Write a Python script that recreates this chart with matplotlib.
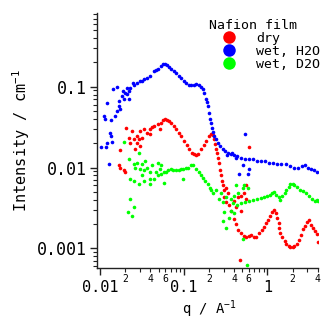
import matplotlib
matplotlib.use('Agg')
import matplotlib.pyplot as plt
from matplotlib.lines import Line2D
from matplotlib.ticker import FixedLocator, FixedFormatter, LogLocator, FuncFormatter
import numpy as np

# Igor-like look: mono font everywhere
plt.rcParams['font.family'] = 'DejaVu Sans Mono'
plt.rcParams['mathtext.fontset'] = 'custom'
plt.rcParams['mathtext.rm'] = 'DejaVu Sans Mono'
plt.rcParams['mathtext.default'] = 'rm'

# SAXS data (q in A^-1, intensity in cm^-1)
h2o_q = [0.0103, 0.0112, 0.0115, 0.0118, 0.0121, 0.0121, 0.0128, 0.0132, 0.0136, 0.0136,
         0.0139, 0.0143, 0.0152, 0.0160, 0.0160, 0.0170, 0.0170, 0.0174, 0.0184, 0.0189,
         0.0195, 0.0200, 0.0212, 0.0212, 0.0223, 0.0223, 0.0230, 0.0250, 0.0257, 0.0279,
         0.0303, 0.0320, 0.0339, 0.0368, 0.0400, 0.0435, 0.0460, 0.0487, 0.0528, 0.0558,
         0.0590, 0.0624, 0.0660, 0.0697, 0.0758, 0.0800, 0.0870, 0.0920, 0.100, 0.106,
         0.115, 0.121, 0.132, 0.140, 0.152, 0.160, 0.169, 0.174, 0.184, 0.189,
         0.195, 0.200, 0.206, 0.211, 0.217, 0.223, 0.229, 0.243, 0.257, 0.271,
         0.295, 0.312, 0.339, 0.368, 0.401, 0.435, 0.486, 0.543, 0.607, 0.679,
         0.759, 0.848, 0.948, 1.06, 1.18, 1.32, 1.47, 1.65, 1.84, 2.06,
         2.30, 2.57, 2.79, 3.03, 3.31, 3.61, 3.93,
         0.543, 0.51, 0.46, 0.59, 0.61, 0.33, 0.38, 0.42]
h2o_I = [0.0177, 0.0439, 0.0403, 0.0182, 0.0635, 0.0204, 0.0112, 0.0271, 0.0391, 0.0248,
         0.0209, 0.0944, 0.0439, 0.0506, 0.0999, 0.0672, 0.0583, 0.0534, 0.0774, 0.0893,
         0.0711, 0.0846, 0.0972, 0.0818, 0.0893, 0.0711, 0.0972, 0.112, 0.106, 0.112,
         0.119, 0.119, 0.125, 0.129, 0.137, 0.158, 0.162, 0.167, 0.182, 0.192,
         0.192, 0.187, 0.177, 0.167, 0.158, 0.149, 0.137, 0.129, 0.119, 0.112,
         0.106, 0.106, 0.106, 0.109, 0.106, 0.100, 0.0944, 0.0846, 0.0711, 0.0652,
         0.0583, 0.0477, 0.0403, 0.0360, 0.0312, 0.0278, 0.0248, 0.0228, 0.0204, 0.0187,
         0.0172, 0.0162, 0.0153, 0.0145, 0.0141, 0.0137, 0.0133, 0.0129, 0.0129, 0.0126,
         0.0122, 0.0119, 0.0122, 0.0115, 0.0115, 0.0112, 0.0112, 0.0109, 0.0103, 0.0100,
         0.0100, 0.0103, 0.0106, 0.0100, 0.0095, 0.0092, 0.0087,
         0.0263, 0.0106, 0.0084, 0.0084, 0.0097, 0.0142, 0.0150, 0.0130]

dry_q = [0.0170, 0.0174, 0.0174, 0.0195, 0.0200, 0.0206, 0.0223, 0.0230, 0.0243, 0.0257,
         0.0264, 0.0279, 0.0279, 0.0295, 0.0303, 0.0303, 0.0320, 0.0339, 0.0368, 0.0400,
         0.0400, 0.0423, 0.0447, 0.0487, 0.0514, 0.0528, 0.0558, 0.0590, 0.0624, 0.0660,
         0.0697, 0.0758, 0.0800, 0.0870, 0.0920, 0.100, 0.109, 0.115, 0.125, 0.132,
         0.140, 0.147, 0.160, 0.174, 0.184, 0.200, 0.211, 0.223, 0.229, 0.236,
         0.243, 0.250, 0.257, 0.264, 0.271, 0.279, 0.286, 0.295, 0.303,
         0.303, 0.321, 0.321, 0.339, 0.348, 0.368, 0.401, 0.424, 0.446, 0.486,
         0.529, 0.559, 0.486, 0.607, 0.559,
         0.401, 0.424, 0.446, 0.486, 0.53, 0.559, 0.61, 0.641, 0.70, 0.737,
         0.80, 0.87, 0.92, 0.97, 1.02, 1.09, 1.15, 1.21, 1.28, 1.32,
         1.36, 1.39, 1.43, 1.51, 1.61, 1.69, 1.79, 1.89, 2.0, 2.11,
         2.24, 2.37, 2.50, 2.65, 2.79, 2.95, 3.14, 3.33, 3.50, 3.70,
         3.90, 3.98, 0.47]
dry_I = [0.0106, 0.0100, 0.0167, 0.0092, 0.0087, 0.0312, 0.0234, 0.0204, 0.0286, 0.0228,
         0.0172, 0.0248, 0.0204, 0.0228, 0.0286, 0.0187, 0.0234, 0.0303, 0.0270, 0.0303,
         0.0263, 0.0321, 0.0330, 0.0349, 0.0303, 0.0359, 0.0391, 0.0403, 0.0391, 0.0380,
         0.0359, 0.0330, 0.0303, 0.0270, 0.0248, 0.0215, 0.0192, 0.0172, 0.0153, 0.0145,
         0.0141, 0.0149, 0.0172, 0.0192, 0.0215, 0.0248, 0.0263, 0.0255, 0.0228, 0.0198,
         0.0172, 0.0153, 0.0133, 0.0115, 0.0092, 0.0080, 0.0069, 0.0060, 0.0052,
         0.0043, 0.0055, 0.0037, 0.0048, 0.0034, 0.0029, 0.0039, 0.0032, 0.0043, 0.0045,
         0.0048, 0.0041, 0.0029, 0.0177, 0.0060,
         0.0023, 0.0020, 0.00167, 0.00153, 0.00141, 0.00137, 0.00141, 0.00145, 0.00137, 0.00137,
         0.00153, 0.00167, 0.00182, 0.00204, 0.00222, 0.00248, 0.00278, 0.00295, 0.00270, 0.00235,
         0.00204, 0.00177, 0.00153, 0.00137, 0.00122, 0.00112, 0.00106, 0.00103, 0.00103, 0.00106,
         0.00112, 0.00126, 0.00145, 0.00172, 0.00187, 0.00209, 0.00222, 0.00192, 0.00177, 0.00162,
         0.00149, 0.00119, 0.00071]

d2o_q = [0.0195, 0.0217, 0.0230, 0.0243, 0.0257, 0.0223, 0.0230, 0.0257, 0.0257, 0.0264,
         0.0279, 0.0295, 0.0295, 0.0303, 0.0320, 0.0320, 0.0339, 0.0339, 0.0348, 0.0368,
         0.0390, 0.0390, 0.0400, 0.0423, 0.0447, 0.0460, 0.0487, 0.0487, 0.0514, 0.0528,
         0.0528, 0.0575, 0.0575, 0.0607, 0.0642, 0.0697, 0.0736, 0.0800, 0.0870, 0.0920,
         0.0970, 0.0970, 0.106, 0.112, 0.121, 0.128, 0.140, 0.152, 0.160, 0.169,
         0.179, 0.195, 0.206, 0.211, 0.223, 0.243, 0.264, 0.279, 0.295, 0.295,
         0.303, 0.321, 0.321, 0.348, 0.368, 0.368, 0.390, 0.401, 0.401, 0.424,
         0.446, 0.51, 0.53, 0.59, 0.51, 0.57,
         0.435, 0.486, 0.543, 0.607, 0.679, 0.759, 0.848, 0.92, 1.00, 1.09,
         1.15, 1.21, 1.28, 1.36, 1.43, 1.51, 1.61, 1.69, 1.79, 1.89,
         2.00, 2.11, 2.24, 2.43, 2.65, 2.86, 3.14, 3.39, 3.70, 3.90, 3.98]
d2o_I = [0.0209, 0.0028, 0.0041, 0.0025, 0.0032, 0.0129, 0.0073, 0.0112, 0.0069, 0.0100,
         0.0115, 0.0153, 0.0063, 0.0097, 0.0112, 0.0080, 0.0092, 0.0069, 0.0119, 0.0100,
         0.0087, 0.0063, 0.0073, 0.0106, 0.0073, 0.0087, 0.0115, 0.0080, 0.0097, 0.0084,
         0.0106, 0.0087, 0.0065, 0.0089, 0.0092, 0.0097, 0.0092, 0.0092, 0.0092, 0.0097,
         0.0097, 0.0073, 0.0100, 0.0100, 0.0106, 0.0106, 0.0097, 0.0087, 0.0080, 0.0075,
         0.0069, 0.0063, 0.0055, 0.0052, 0.0048, 0.0052, 0.0041, 0.0048, 0.0037, 0.0022,
         0.0028, 0.0043, 0.0018, 0.0024, 0.0041, 0.0029, 0.0036, 0.0045, 0.0027, 0.0060,
         0.0048, 0.0055, 0.0060, 0.0055, 0.0013, 0.00062,
         0.0034, 0.0036, 0.0037, 0.0039, 0.0040, 0.0041, 0.0042, 0.0043, 0.0044, 0.0046,
         0.0048, 0.0050, 0.0046, 0.0043, 0.0040, 0.0044, 0.0049, 0.0053, 0.0058, 0.0063,
         0.0063, 0.0060, 0.0057, 0.0053, 0.0051, 0.0048, 0.0045, 0.0041, 0.0039, 0.0040, 0.0039]

series_labels = ['dry', 'wet, H2O', 'wet, D2O']
series_colors = ['#FF0000', '#0000FF', '#00FF00']
x_major = [0.01, 0.1, 1]
x_major_labels = ['0.01', '0.1', '1']
y_major = [0.001, 0.01, 0.1]
y_major_labels = ['0.001', '0.01', '0.1']

fig = plt.figure(figsize=(3.28, 3.20), dpi=100)
ax = fig.add_axes([0.296, 0.1625, 0.674, 0.797])

for q, inten, c in zip([dry_q, h2o_q, d2o_q], [dry_I, h2o_I, d2o_I], series_colors):
    ax.plot(q, inten, 'o', ls='none', ms=2.6, mew=0, color=c)

ax.set_xscale('log')
ax.set_yscale('log')
ax.set_xlim(0.0092, 4.05)
ax.set_ylim(5.7e-4, 0.82)

ax.spines['top'].set_visible(False)
ax.spines['right'].set_visible(False)
for s in ['left', 'bottom']:
    ax.spines[s].set_linewidth(1.0)
    ax.spines[s].set_color('#222222')

ax.xaxis.set_major_locator(FixedLocator(x_major))
ax.xaxis.set_major_formatter(FixedFormatter(x_major_labels))
ax.xaxis.set_minor_locator(LogLocator(base=10, subs=np.arange(2, 10)))


def minor_fmt(v, pos):
    lead = int(round(v / 10 ** np.floor(np.log10(v) + 1e-9)))
    return str(lead) if lead in (2, 4, 6) else ''


ax.xaxis.set_minor_formatter(FuncFormatter(minor_fmt))

ax.yaxis.set_major_locator(FixedLocator(y_major))
ax.yaxis.set_major_formatter(FixedFormatter(y_major_labels))
ax.yaxis.set_minor_locator(LogLocator(base=10, subs=np.arange(2, 10)))
ax.yaxis.set_minor_formatter(FuncFormatter(lambda v, p: ''))

ax.tick_params(which='major', direction='out', length=5, width=1, color='#222222')
ax.tick_params(which='minor', direction='out', length=3, width=0.8, color='#222222')
ax.tick_params(axis='y', which='major', labelsize=12, pad=2)
ax.tick_params(axis='x', which='major', labelsize=11, pad=4)
ax.tick_params(axis='x', which='minor', labelsize=7, pad=1)

ax.set_ylabel('Intensity / cm$^{-1}$', fontsize=11)
ax.yaxis.set_label_coords(-0.294, 0.5)
ax.set_xlabel('q / A$^{-1}$', fontsize=10)
ax.xaxis.set_label_coords(0.51, -0.118)

handles = [Line2D([], [], marker='o', ls='none', ms=9, mew=0, color=c) for c in series_colors]
leg = ax.legend(handles, series_labels, title='Nafion film', loc='upper left',
                bbox_to_anchor=(209 / 328, 1 - 19 / 320), bbox_transform=fig.transFigure,
                frameon=False, fontsize=9.5, title_fontsize=9.5, alignment='left',
                numpoints=1, handlelength=3.0, handletextpad=0.6, labelspacing=0.0,
                borderpad=0, borderaxespad=0)

fig.savefig('out.png', dpi=100)
